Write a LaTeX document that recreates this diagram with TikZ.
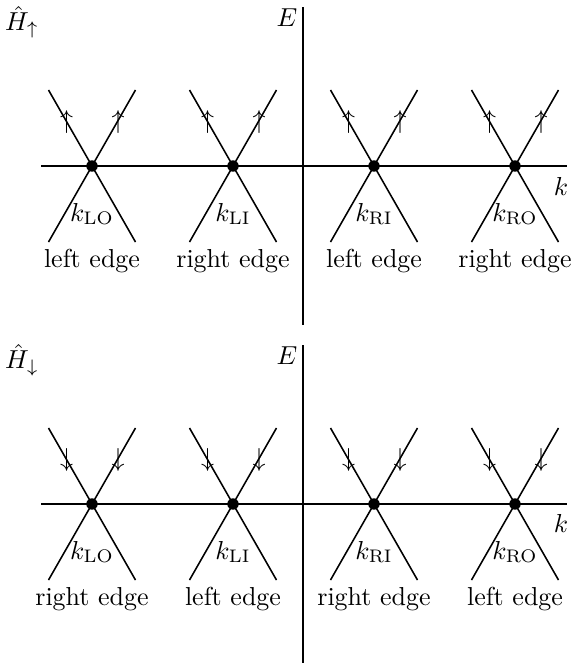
\documentclass[tikz,border=0pt]{standalone}
\begin{document}
\begin{tikzpicture}[x=0.385pt,y=-0.385pt,
  axis/.style={line width=0.9pt},
  band/.style={line width=0.6pt},
  dot/.style={circle,fill,inner sep=0pt,minimum size=4.4pt},
  lbl/.style={inner sep=0pt}]
\useasboundingbox (0,0) rectangle (574,669);
% ---------- top panel ----------
\coordinate (hl1) at (41,166); \coordinate (hr1) at (567,166);
\coordinate (vt1) at (303,7); \coordinate (vb1) at (303,325);
\draw[axis] (hl1) -- (hr1);
\draw[axis] (vt1) -- (vb1);
\node[lbl] (E1) at (287,18) {$E$};
\node[lbl] (k1) at (561,186) {$k$};
\node[lbl] (H1) at (22,22) {$\hat{H}_\uparrow$};
\foreach \x/\n/\s/\e in {92/a/LO/left edge,233/b/LI/right edge,374/c/RI/left edge,515/d/RO/right edge}{
  \node[dot] (t\n) at (\x,166) {};
  \coordinate (t\n ul) at (\x-43.5,90);
  \coordinate (t\n lr) at (\x+43.5,242);
  \coordinate (t\n ur) at (\x+43.5,90);
  \coordinate (t\n ll) at (\x-43.5,242);
  \draw[band] (t\n ul) -- (t\n lr);
  \draw[band] (t\n ur) -- (t\n ll);
  \node[lbl] (t\n a1) at (\x-25.5,122) {$\uparrow$};
  \node[lbl] (t\n a2) at (\x+26,122) {$\uparrow$};
  \node[lbl] (t\n k) at (\x,214) {$k_{\mathrm{\s}}$};
  \node[lbl] (t\n e) at (\x,261) {\e};
}
% ---------- bottom panel ----------
\coordinate (hl2) at (41,504); \coordinate (hr2) at (567,504);
\coordinate (vt2) at (303,345); \coordinate (vb2) at (303,663);
\draw[axis] (hl2) -- (hr2);
\draw[axis] (vt2) -- (vb2);
\node[lbl] (E2) at (287,356) {$E$};
\node[lbl] (k2) at (561,523) {$k$};
\node[lbl] (H2) at (22,360) {$\hat{H}_\downarrow$};
\foreach \x/\n/\s/\e in {92/a/LO/right edge,233/b/LI/left edge,374/c/RI/right edge,515/d/RO/left edge}{
  \node[dot] (b\n) at (\x,504) {};
  \coordinate (b\n ul) at (\x-43.5,428);
  \coordinate (b\n lr) at (\x+43.5,580);
  \coordinate (b\n ur) at (\x+43.5,428);
  \coordinate (b\n ll) at (\x-43.5,580);
  \draw[band] (b\n ul) -- (b\n lr);
  \draw[band] (b\n ur) -- (b\n ll);
  \node[lbl] (b\n a1) at (\x-25.5,460) {$\downarrow$};
  \node[lbl] (b\n a2) at (\x+26,460) {$\downarrow$};
  \node[lbl] (b\n k) at (\x,552) {$k_{\mathrm{\s}}$};
  \node[lbl] (b\n e) at (\x,599) {\e};
}
\end{tikzpicture}
\end{document}
